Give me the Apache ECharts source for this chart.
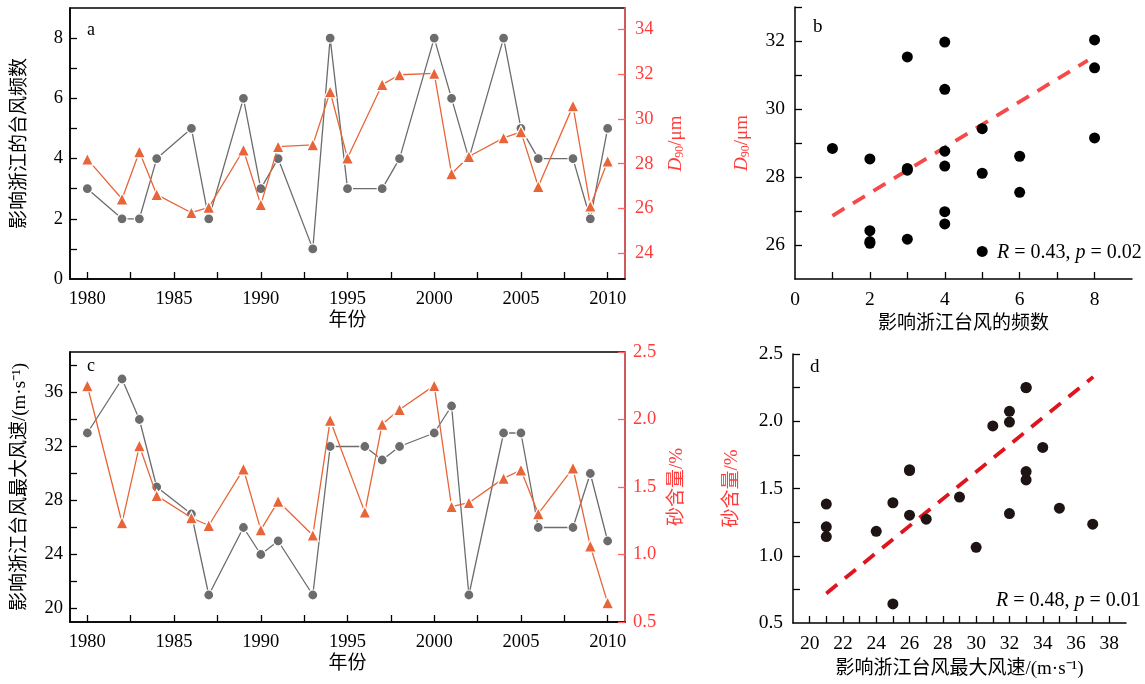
<!DOCTYPE html>
<html>
<head>
<meta charset="utf-8">
<script src="https://cdn.jsdelivr.net/npm/echarts@6/dist/echarts.min.js"></script>
<style>
html,body{margin:0;padding:0;background:#fff;}
#main{width:1145px;height:684px;}
</style>
</head>
<body>
<div id="main"></div>
<script>
// ---- data ----
var yearsA = [1980,1982,1983,1984,1986,1987,1989,1990,1991,1993,1994,1995,1997,1998,2000,2001,2002,2004,2005,2006,2008,2009,2010];
var freqA  = [3,2,2,4,5,2,6,3,4,1,8,3,3,4,8,6,4,8,5,4,4,2,5];
var d90A   = [28.2,26.42,28.53,26.62,25.81,26.05,28.61,26.17,28.76,28.84,31.21,28.25,31.53,31.97,32.03,27.55,28.32,29.15,29.42,26.98,30.58,26.1,28.11];

var yearsC = [1980,1982,1983,1984,1986,1987,1989,1990,1991,1993,1994,1996,1997,1998,2000,2001,2002,2004,2005,2006,2008,2009,2010];
var windC  = [33,37,34,29,27,21,26,24,25,21,32,32,31,32,33,35,21,33,33,26,26,30,25];
var sandC  = [2.25,1.235,1.805,1.436,1.272,1.215,1.633,1.182,1.394,1.143,1.994,1.314,1.965,2.074,2.251,1.354,1.384,1.564,1.626,1.302,1.64,1.063,0.642];

var trendB = [[1, 26.86], [7.82, 31.43]];
var trendD = [[21, 0.72], [37.03, 2.33]];

var yearTicks  = [1980,1982.5,1985,1987.5,1990,1992.5,1995,1997.5,2000,2002.5,2005,2007.5,2010];
var yearLabels = [1980,1985,1990,1995,2000,2005,2010];
var freqTicks  = [1,2,3,4,5,6,7,8];
var freqLabels = [0,2,4,6,8];
var d90Ticks   = [24,26,28,30,32,34];
var windTicks  = [20,22,24,26,28,30,32,34,36,38];
var windLabels = [20,24,28,32,36];
var sandTicks  = [0.5,1.0,1.5,2.0,2.5];
var bXTicks    = [1,2,3,4,5,6,7,8];
var bXLabels   = [0,2,4,6,8];
var bYTicks    = [26,27,28,29,30,31,32,33];
var bYLabels   = [26,28,30,32];
var dXTicks    = [20,21,22,23,24,25,26,27,28,29,30,31,32,33,34,35,36,37,38];
var dXLabels   = [20,22,24,26,28,30,32,34,36,38];
var dYTicks    = [0.75,1.0,1.25,1.5,1.75,2.0,2.25,2.5];
var dYLabels   = [0.5,1.0,1.5,2.0,2.5];

var labelsA = ['a','b','c','d'];

// ---- styles ----
var FF = '"Liberation Serif", "Noto Sans CJK SC", serif';
var BLACK = '#000';
var RED_LINE = '#ff6464';
var RED_TXT = '#ff3c3c';
var GRAY = '#6c6c6c';
var ORANGE = '#e8653a';

function pairs(xs, ys){ return xs.map(function(x,i){ return [x, ys[i]]; }); }

function axisBase(color, txtColor, fs, margin){
  return {
    axisLine:{show:true, onZero:false, lineStyle:{color:color, width:1.5}},
    axisTick:{show:true, inside:true, length:7, lineStyle:{color:color, width:1.3}},
    axisLabel:{color:txtColor, fontFamily:FF, fontSize:fs, margin:margin},
    splitLine:{show:false},
    nameTextStyle:{color:txtColor, fontFamily:FF, fontSize:19}
  };
}
function mk(base, extra){
  var o = JSON.parse(JSON.stringify(base));
  for (var k in extra){
    if (typeof extra[k] === 'object' && !Array.isArray(extra[k]) && o[k]) {
      for (var j in extra[k]) o[k][j] = extra[k][j];
    } else o[k] = extra[k];
  }
  return o;
}
var fmtInt = function(v){ return String(v); };
var fmt1 = function(v){ return Number(v).toFixed(1); };

var FS_AC = 18.5, FS_BD = 19.5;

var xA = mk(axisBase(BLACK, BLACK, FS_AC, 11), {gridIndex:0, type:'value', min:1979, max:2011,
  name:'年份', nameLocation:'middle', nameGap:33});
xA.axisTick.customValues = yearTicks; xA.axisLabel.customValues = yearLabels; xA.axisLabel.formatter = fmtInt;
xA.nameTextStyle.verticalAlign='top';

var xC = mk(axisBase(BLACK, BLACK, FS_AC, 11), {gridIndex:2, type:'value', min:1979, max:2011,
  name:'年份', nameLocation:'middle', nameGap:33});
xC.axisTick.customValues = yearTicks; xC.axisLabel.customValues = yearLabels; xC.axisLabel.formatter = fmtInt;
xC.nameTextStyle.verticalAlign='top';

var xB = mk(axisBase(BLACK, BLACK, FS_BD, 11), {gridIndex:1, type:'value', min:0, max:9,
  name:'影响浙江台风的频数', nameLocation:'middle', nameGap:36});
xB.axisTick.customValues = bXTicks; xB.axisLabel.customValues = bXLabels; xB.axisLabel.formatter = fmtInt;
xB.nameTextStyle.verticalAlign='top';

var xD = mk(axisBase(BLACK, BLACK, FS_BD, 11), {gridIndex:3, type:'value', min:19, max:39,
  name:'影响浙江台风最大风速/(m·s⁻¹)', nameLocation:'middle', nameGap:37});
xD.axisTick.customValues = dXTicks; xD.axisLabel.customValues = dXLabels; xD.axisLabel.formatter = fmtInt;
xD.nameTextStyle.verticalAlign='top';

var yAL = mk(axisBase(BLACK, BLACK, FS_AC, 7), {gridIndex:0, type:'value', min:0, max:9, position:'left',
  name:'影响浙江的台风频数', nameLocation:'middle', nameGap:40, nameRotate:90});
yAL.axisTick.customValues = freqTicks; yAL.axisLabel.customValues = freqLabels; yAL.axisLabel.formatter = fmtInt;

var richD = {
  i:{fontFamily:FF, fontStyle:'italic', fontSize:19, color:RED_TXT},
  s:{fontFamily:FF, fontSize:12, color:RED_TXT, verticalAlign:'bottom', padding:[8,0,0,0]},
  n:{fontFamily:FF, fontSize:19, color:RED_TXT}
};
var yAR = mk(axisBase(RED_LINE, RED_TXT, FS_AC, 10), {gridIndex:0, type:'value', min:22.85, max:34.95, position:'right',
  name:'{i|D}{s|90}{n|/μm}', nameLocation:'middle', nameGap:41, nameRotate:90});
yAR.axisTick.customValues = d90Ticks; yAR.axisLabel.customValues = d90Ticks; yAR.axisLabel.formatter = fmtInt;
yAR.nameTextStyle.rich = richD; yAR.nameTextStyle.verticalAlign='top';

var yB = mk(axisBase(BLACK, BLACK, FS_BD, 10), {gridIndex:1, type:'value', min:25, max:33, position:'left',
  name:'{i|D}{s|90}{n|/μm}', nameLocation:'middle', nameGap:43, nameRotate:90});
yB.axisTick.customValues = bYTicks; yB.axisLabel.customValues = bYLabels; yB.axisLabel.formatter = fmtInt;
yB.nameTextStyle.rich = richD; yB.nameTextStyle.color = RED_TXT;

var yCL = mk(axisBase(BLACK, BLACK, FS_AC, 7), {gridIndex:2, type:'value', min:19, max:39, position:'left',
  name:'影响浙江台风最大风速/(m·s⁻¹)', nameLocation:'middle', nameGap:40, nameRotate:90});
yCL.axisTick.customValues = windTicks; yCL.axisLabel.customValues = windLabels; yCL.axisLabel.formatter = fmtInt;

var yCR = mk(axisBase(RED_LINE, RED_TXT, FS_AC, 8), {gridIndex:2, type:'value', min:0.5, max:2.5, position:'right',
  name:'砂含量/%', nameLocation:'middle', nameGap:43, nameRotate:90});
yCR.axisTick.customValues = sandTicks; yCR.axisLabel.customValues = sandTicks; yCR.axisLabel.formatter = fmt1;
yCR.nameTextStyle.verticalAlign='top';

var yD = mk(axisBase(BLACK, BLACK, FS_BD, 10), {gridIndex:3, type:'value', min:0.5, max:2.5, position:'left',
  name:'砂含量/%', nameLocation:'middle', nameGap:51, nameRotate:90});
yD.axisTick.customValues = dYTicks; yD.axisLabel.customValues = dYLabels; yD.axisLabel.formatter = fmt1;
yD.nameTextStyle.color = RED_TXT;

var gridBox = {show:true, borderColor:'#000', borderWidth:1.5, backgroundColor:'transparent'};

var option = {
  animation:false,
  backgroundColor:'#fff',
  grid:[
    Object.assign({left:70, top:8, width:555, height:271}, gridBox),
    {left:795, top:7, width:337, height:272},
    Object.assign({left:70, top:352, width:555, height:270}, gridBox),
    {left:793, top:354, width:333, height:269}
  ],
  xAxis:[xA, xB, xC, xD],
  yAxis:[yAL, yAR, yB, yCL, yCR, yD],
  series:[
    {type:'line', xAxisIndex:0, yAxisIndex:0, data:pairs(yearsA, freqA), symbol:'circle', symbolSize:10,
      lineStyle:{color:GRAY, width:1.3}, itemStyle:{color:GRAY, borderColor:'#fff', borderWidth:1.2}, z:3},
    {type:'line', xAxisIndex:0, yAxisIndex:1, data:pairs(yearsA, d90A), symbol:'triangle', symbolSize:12,
      lineStyle:{color:ORANGE, width:1.3}, itemStyle:{color:ORANGE, borderColor:'#fff', borderWidth:1.2}, z:4},
    {type:'scatter', xAxisIndex:1, yAxisIndex:2, data:pairs(freqA, d90A), symbol:'circle', symbolSize:11,
      itemStyle:{color:'#000', opacity:1}, z:4},
    {type:'line', xAxisIndex:1, yAxisIndex:2, data:trendB, symbol:'none',
      lineStyle:{color:'#f54a4a', width:3.8, type:[14,10]}, z:3},
    {type:'line', xAxisIndex:2, yAxisIndex:3, data:pairs(yearsC, windC), symbol:'circle', symbolSize:10,
      lineStyle:{color:GRAY, width:1.3}, itemStyle:{color:GRAY, borderColor:'#fff', borderWidth:1.2}, z:3},
    {type:'line', xAxisIndex:2, yAxisIndex:4, data:pairs(yearsC, sandC), symbol:'triangle', symbolSize:12,
      lineStyle:{color:ORANGE, width:1.3}, itemStyle:{color:ORANGE, borderColor:'#fff', borderWidth:1.2}, z:4},
    {type:'scatter', xAxisIndex:3, yAxisIndex:5, data:pairs(windC, sandC), symbol:'circle', symbolSize:11,
      itemStyle:{color:'#1e1414', opacity:1}, z:4},
    {type:'line', xAxisIndex:3, yAxisIndex:5, data:trendD, symbol:'none',
      lineStyle:{color:'#e0141e', width:3.8, type:[14,10]}, z:3}
  ],
  graphic:[
    {type:'text', left:87, top:21, style:{text:labelsA[0], font:'18px "Liberation Serif"', fill:'#000'}},
    {type:'text', left:813, top:18, style:{text:labelsA[1], font:'19px "Liberation Serif"', fill:'#000'}},
    {type:'text', left:87, top:357, style:{text:labelsA[2], font:'18px "Liberation Serif"', fill:'#000'}},
    {type:'text', left:810, top:358, style:{text:labelsA[3], font:'19px "Liberation Serif"', fill:'#000'}},
    {type:'text', left:997, top:243, style:{text:'{i|R} = 0.43, {i|p} = 0.02', fill:'#000',
      font:'20px "Liberation Serif"', rich:{i:{fontStyle:'italic', fontFamily:'Liberation Serif', fontSize:20}}}},
    {type:'text', left:996, top:591, style:{text:'{i|R} = 0.48, {i|p} = 0.01', fill:'#000',
      font:'20px "Liberation Serif"', rich:{i:{fontStyle:'italic', fontFamily:'Liberation Serif', fontSize:20}}}}
  ]
};

var chart = echarts.init(document.getElementById('main'), null, {renderer:'canvas'});
chart.setOption(option);
</script>
</body>
</html>
